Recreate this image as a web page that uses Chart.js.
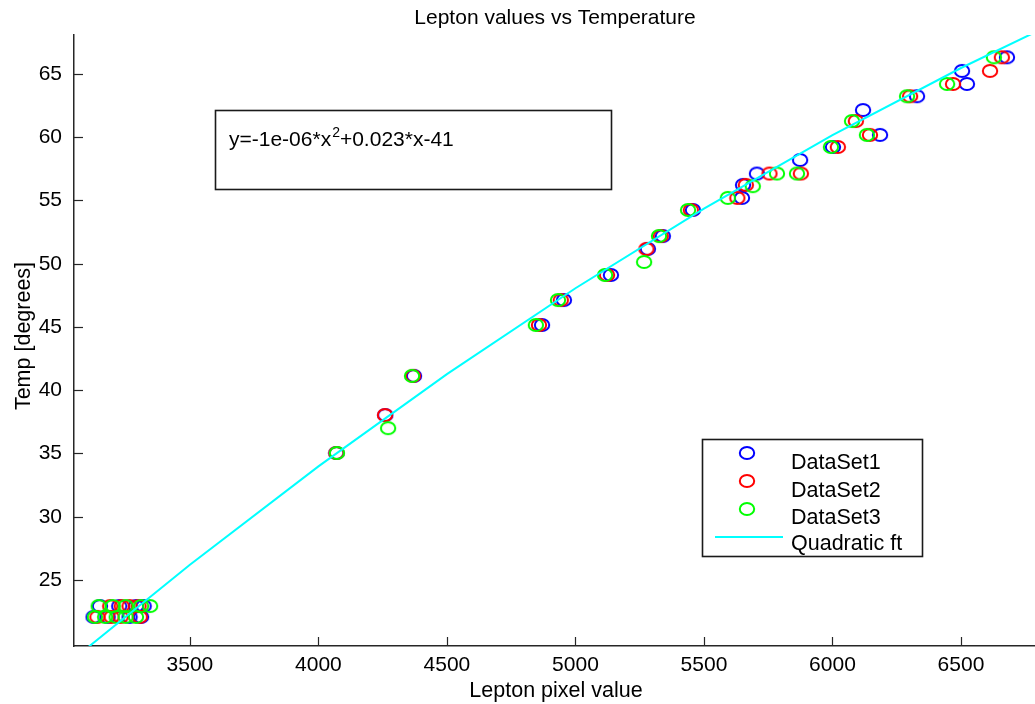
<!DOCTYPE html>
<html><head><meta charset="utf-8">
<script src="https://cdn.jsdelivr.net/npm/chart.js@4/dist/chart.umd.min.js"></script>
<style>html,body{margin:0;padding:0;background:#fff;overflow:hidden}</style>
</head><body>
<canvas id="c" width="1035" height="704" style="display:block;width:1035px;height:704px"></canvas>
<script>
// ---- data ----
const xTicks = [3500, 4000, 4500, 5000, 5500, 6000, 6500];
const yTicks = [25, 30, 35, 40, 45, 50, 55, 60, 65];

const ds1X = [3150, 3225, 3290, 3320, 3125, 3180, 3265, 3310, 4070, 4260, 4372, 4870, 4955, 5138, 5282, 5340, 5457, 5648, 5652, 5706, 5874, 6002, 6119, 6185, 6329, 6504, 6523, 6679];
const ds1Y = [22.94, 22.94, 22.94, 22.94, 22.08, 22.08, 22.08, 22.08, 35.04, 38.04, 41.13, 45.16, 47.13, 49.11, 51.17, 52.19, 54.25, 55.2, 56.23, 57.13, 58.2, 59.23, 62.15, 60.18, 63.24, 65.24, 64.21, 66.32];

const ds2X = [3190, 3235, 3265, 3300, 3140, 3195, 3230, 3305, 4070, 4259, 4368, 4858, 4943, 5123, 5276, 5332, 5449, 5630, 5663, 5755, 5877, 6021, 6091, 6146, 6302, 6469, 6613, 6659];
const ds2Y = [22.94, 22.94, 22.94, 22.94, 22.08, 22.08, 22.08, 22.08, 35.04, 38.04, 41.13, 45.16, 47.13, 49.11, 51.17, 52.19, 54.25, 55.2, 56.23, 57.13, 57.13, 59.23, 61.28, 60.18, 63.24, 64.21, 65.24, 66.32];

const ds3X = [3145, 3200, 3250, 3310, 3345, 3130, 3170, 3215, 3250, 3290, 4072, 4271, 4364, 4846, 4932, 5115, 5267, 5325, 5438, 5593, 5690, 5784, 5862, 5994, 6076, 6134, 6290, 6446, 6628];
const ds3Y = [22.94, 22.94, 22.94, 22.94, 22.94, 22.08, 22.08, 22.08, 22.08, 22.08, 35.04, 37.0, 41.13, 45.16, 47.13, 49.11, 50.14, 52.19, 54.25, 55.2, 56.13, 57.13, 57.13, 59.23, 61.28, 60.18, 63.24, 64.21, 66.32];

const fitX = [3100, 3500, 4000, 4500, 5000, 5500, 6000, 6500, 6800];
const fitY = [19.62, 26.2, 33.98, 41.27, 48.06, 54.36, 60.16, 65.47, 68.41];

const seriesNames = ['DataSet1', 'DataSet2', 'DataSet3', 'Quadratic ft'];
const chartTitle = 'Lepton values vs Temperature';
const xTitle = 'Lepton pixel value';
const yTitle = 'Temp [degrees]';

// ---- styling ----
const FONT = '"Liberation Sans", Arial, Helvetica, sans-serif';
const COLORS = ['#0000ff', '#ff0000', '#00ff00', '#00ffff'];

function ring(color) {
  const c = document.createElement('canvas');
  c.width = 18; c.height = 16;
  const g = c.getContext('2d');
  g.strokeStyle = color; g.lineWidth = 2;
  g.beginPath(); g.ellipse(9, 8, 7.2, 6.1, 0, 0, Math.PI * 2); g.stroke();
  return c;
}
const rings = COLORS.slice(0, 3).map(ring);
const pts = (xs, ys) => xs.map((x, i) => ({ x: x, y: ys[i] }));

const overlay = {
  id: 'overlay',
  afterDraw(chart) {
    const ctx = chart.ctx;
    const xs = chart.scales.x, ys = chart.scales.y;
    const a = chart.chartArea;
    ctx.save();
    // inward tick marks
    ctx.strokeStyle = '#262626'; ctx.lineWidth = 1.2;
    xTicks.forEach(v => {
      const px = Math.round(xs.getPixelForValue(v)) + 0.5;
      ctx.beginPath(); ctx.moveTo(px, a.bottom); ctx.lineTo(px, a.bottom - 9); ctx.stroke();
    });
    yTicks.forEach(v => {
      const py = Math.round(ys.getPixelForValue(v)) + 0.5;
      ctx.beginPath(); ctx.moveTo(a.left, py); ctx.lineTo(a.left + 9, py); ctx.stroke();
    });
    ctx.fillStyle = '#000';
    // title
    ctx.font = '21px ' + FONT; ctx.textAlign = 'center'; ctx.textBaseline = 'alphabetic';
    ctx.fillText(chartTitle, 555, 24);
    // axis titles
    ctx.font = '21.5px ' + FONT;
    ctx.fillText(xTitle, 556, 697);
    ctx.save(); ctx.translate(30, 336); ctx.rotate(-Math.PI / 2);
    ctx.fillText(yTitle, 0, 0); ctx.restore();
    // equation box
    ctx.lineWidth = 1.6; ctx.strokeStyle = '#1a1a1a';
    ctx.strokeRect(215.5, 110.5, 396, 79);
    ctx.textAlign = 'left';
    ctx.font = '21px ' + FONT;
    let x0 = 229; const base = 146;
    const p1 = 'y=-1e-06*x';
    ctx.fillText(p1, x0, base); x0 += ctx.measureText(p1).width;
    ctx.font = '14px ' + FONT; ctx.fillText('2', x0 + 1, base - 9); x0 += ctx.measureText('2').width + 1;
    ctx.font = '21px ' + FONT; ctx.fillText('+0.023*x-41', x0, base);
    // legend
    ctx.fillStyle = '#fff';
    ctx.fillRect(702, 439, 220, 117);
    ctx.strokeRect(702.5, 439.5, 220, 117);
    ctx.fillStyle = '#000';
    ctx.font = '21.5px ' + FONT;
    const my = [453, 481, 509], ty = [469, 497, 524, 550];
    for (let i = 0; i < 3; i++) {
      ctx.drawImage(rings[i], 747 - 9, my[i] - 8);
      ctx.fillText(seriesNames[i], 791, ty[i]);
    }
    ctx.strokeStyle = COLORS[3]; ctx.lineWidth = 2;
    ctx.beginPath(); ctx.moveTo(715, 537); ctx.lineTo(783, 537); ctx.stroke();
    ctx.fillText(seriesNames[3], 791, ty[3]);
    ctx.restore();
  }
};

new Chart(document.getElementById('c'), {
  type: 'scatter',
  data: {
    datasets: [
      { label: seriesNames[3], data: pts(fitX, fitY), showLine: true, pointRadius: 0, borderColor: COLORS[3], borderWidth: 2, fill: false },
      { label: seriesNames[2], data: pts(ds3X, ds3Y), pointStyle: rings[2], pointRadius: 7 },
      { label: seriesNames[1], data: pts(ds2X, ds2Y), pointStyle: rings[1], pointRadius: 7 },
      { label: seriesNames[0], data: pts(ds1X, ds1Y), pointStyle: rings[0], pointRadius: 7 }
    ]
  },
  options: {
    responsive: false, animation: false, devicePixelRatio: 1,
    layout: { autoPadding: false, padding: { top: 35, left: 0, right: 0, bottom: 0 } },
    plugins: { legend: { display: false }, tooltip: { enabled: false }, title: { display: false } },
    scales: {
      x: {
        type: 'linear', position: 'bottom', min: 3049, max: 6788,
        afterBuildTicks: s => { s.ticks = xTicks.map(v => ({ value: v })); },
        afterFit: s => { s.height = 58; s.paddingLeft = 0; s.paddingRight = 0; },
        grid: { display: false, drawTicks: false },
        border: { display: true, color: '#262626', width: 1.5 },
        ticks: { font: { family: FONT, size: 21 }, color: '#000', padding: 7, maxRotation: 0, autoSkip: false, callback: v => String(v) }
      },
      y: {
        type: 'linear', position: 'left', min: 19.78, max: 68.08,
        afterBuildTicks: s => { s.ticks = yTicks.map(v => ({ value: v })); },
        afterFit: s => { s.width = 74; s.paddingTop = 0; s.paddingBottom = 0; },
        grid: { display: false, drawTicks: false },
        border: { display: true, color: '#262626', width: 1.5 },
        ticks: { font: { family: FONT, size: 21 }, color: '#000', padding: 12, autoSkip: false, callback: v => String(v) }
      }
    }
  },
  plugins: [overlay]
});
</script>
</body></html>
